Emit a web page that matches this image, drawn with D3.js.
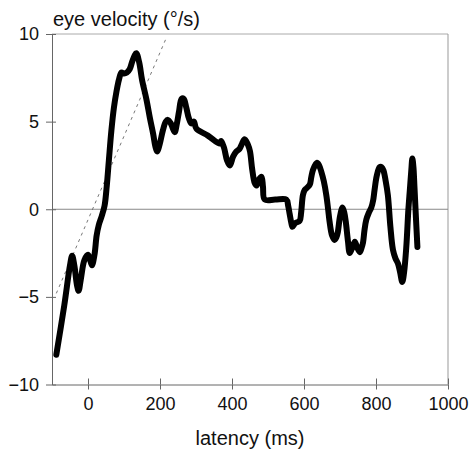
<!DOCTYPE html>
<html>
<head>
<meta charset="utf-8">
<script src="https://cdn.jsdelivr.net/npm/d3@7"></script>
<style>
  html, body { margin: 0; padding: 0; background: #fff; }
  svg { display: block; font-family: "Liberation Sans", Arial, Helvetica, sans-serif; }
</style>
</head>
<body>
<svg id="chart" width="470" height="451"></svg>
<script>
// ---- data ----
const latency = [-88,-66,-50,-44,-38,-30,-26,-20,-10,0,6,11,18,24,30,38,46,52,58,65,72,79,86,93,100,108,116,124,134,142,150,162,172,181,187,192,199,208,216,222,230,236,241,247,253,260,266,273,280,287,294,301,333,366,370,378,386,394,403,412,421,428,435,444,450,456,463,468,475,482,486,491,520,551,556,560,565,568,575,588,592,597,602,607,616,620,625,636,642,648,655,662,667,671,678,685,690,694,700,707,712,716,722,727,734,741,748,755,760,764,768,773,780,787,792,796,802,810,816,821,827,833,840,847,854,861,867,873,878,884,890,894,898,901,904,907,911,915];
const eyeVelocity = [-8.3,-5.5,-3.2,-2.65,-3.2,-4.4,-4.65,-4.0,-2.9,-2.6,-2.9,-3.2,-2.6,-1.5,-0.9,-0.4,0.2,1.3,2.8,4.5,5.8,6.7,7.4,7.8,7.75,7.8,8.0,8.5,8.9,8.4,7.4,6.3,5.2,4.3,3.6,3.3,3.7,4.5,5.0,5.1,4.9,4.6,4.4,4.9,5.6,6.3,6.3,5.8,5.2,4.9,5.0,4.6,4.2,3.75,3.9,3.5,2.8,2.5,3.0,3.3,3.45,3.75,4.0,3.7,3.3,2.3,1.5,1.35,1.7,1.85,1.3,0.55,0.55,0.55,0.2,-0.25,-0.8,-1.0,-0.8,-0.65,-0.2,0.8,1.1,1.2,1.4,1.8,2.25,2.65,2.5,2.15,1.6,0.8,0,-0.7,-1.5,-1.75,-1.6,-1.3,-0.4,0.1,-0.2,-0.7,-1.8,-2.5,-2.2,-1.85,-2.2,-2.45,-2.2,-1.9,-1.2,-0.6,-0.2,0.1,0.5,1.1,1.9,2.4,2.4,2.2,1.6,0.8,-1.0,-2.3,-2.8,-3.1,-3.6,-4.15,-3.6,-2.2,0,1.1,2.2,2.9,2.4,1.2,-0.5,-2.15];
const refLatency = [-88, 218];
const refVelocity = [-4.8, 9.8];
const xTicks = [0, 200, 400, 600, 800, 1000];
const yTicks = [-10, -5, 0, 5, 10];
const xDomain = [-100, 1000];
const yDomain = [-10, 10];
const xTitle = "latency (ms)";
const yTitle = "eye velocity (°/s)";

// ---- chart ----
const svg = d3.select("#chart");
const x = d3.scaleLinear().domain(xDomain).range([52, 448]);
const y = d3.scaleLinear().domain(yDomain).range([384.5, 34]);

// frame (top, right) light grey
svg.append("line").attr("x1", x(xDomain[0])).attr("x2", x(xDomain[1]))
  .attr("y1", y(yDomain[1])).attr("y2", y(yDomain[1]))
  .attr("stroke", "#aaa").attr("stroke-width", 1);
svg.append("line").attr("x1", x(xDomain[1])).attr("x2", x(xDomain[1]))
  .attr("y1", y(yDomain[1])).attr("y2", y(yDomain[0]))
  .attr("stroke", "#999").attr("stroke-width", 1);

// zero line
svg.append("line").attr("x1", x(xDomain[0])).attr("x2", x(xDomain[1]))
  .attr("y1", y(0)).attr("y2", y(0))
  .attr("stroke", "#888").attr("stroke-width", 1);

// axes
const xAxis = d3.axisBottom(x).tickValues(xTicks).tickFormat(d3.format("d"))
  .tickSize(5).tickPadding(8).tickSizeOuter(0);
const gx = svg.append("g").attr("transform", `translate(0,${y(yDomain[0])})`).call(xAxis);
const yAxis = d3.axisLeft(y).tickValues(yTicks).tickFormat(d3.format("d"))
  .tickSize(6).tickPadding(7).tickSizeOuter(0);
const gy = svg.append("g").attr("transform", `translate(${x(xDomain[0])},0)`).call(yAxis);

[gx, gy].forEach(g => {
  g.select(".domain").attr("stroke", "#666").attr("stroke-width", 1);
  g.selectAll(".tick line").attr("stroke", "#666");
  g.selectAll(".tick text").attr("fill", "#111")
    .style("font-size", "18px").style("font-family", "Liberation Sans, Arial, sans-serif");
});
// inner tick extensions
gx.selectAll(".tick").append("line").attr("y1", 0).attr("y2", -6).attr("stroke", "#666");
gy.selectAll(".tick").append("line").attr("x1", 0).attr("x2", 4).attr("stroke", "#666");

// reference dotted line
svg.append("line")
  .attr("x1", x(refLatency[0])).attr("y1", y(refVelocity[0]))
  .attr("x2", x(refLatency[1])).attr("y2", y(refVelocity[1]))
  .attr("stroke", "#555").attr("stroke-width", 0.8)
  .attr("stroke-dasharray", "3,4");

// main trace
const pts = latency.map((t, i) => [t, eyeVelocity[i]]);
const line = d3.line().x(d => x(d[0])).y(d => y(d[1])).curve(d3.curveCatmullRom.alpha(0.5));
svg.append("path").datum(pts).attr("d", line)
  .attr("fill", "none").attr("stroke", "#000").attr("stroke-width", 6)
  .attr("stroke-linejoin", "round").attr("stroke-linecap", "round");

// titles
svg.append("text").attr("x", 53).attr("y", 26).text(yTitle)
  .style("font-size", "20px").attr("fill", "#111");
svg.append("text").attr("x", 250).attr("y", 445).attr("text-anchor", "middle").text(xTitle)
  .style("font-size", "20px").attr("fill", "#111");
</script>
</body>
</html>
